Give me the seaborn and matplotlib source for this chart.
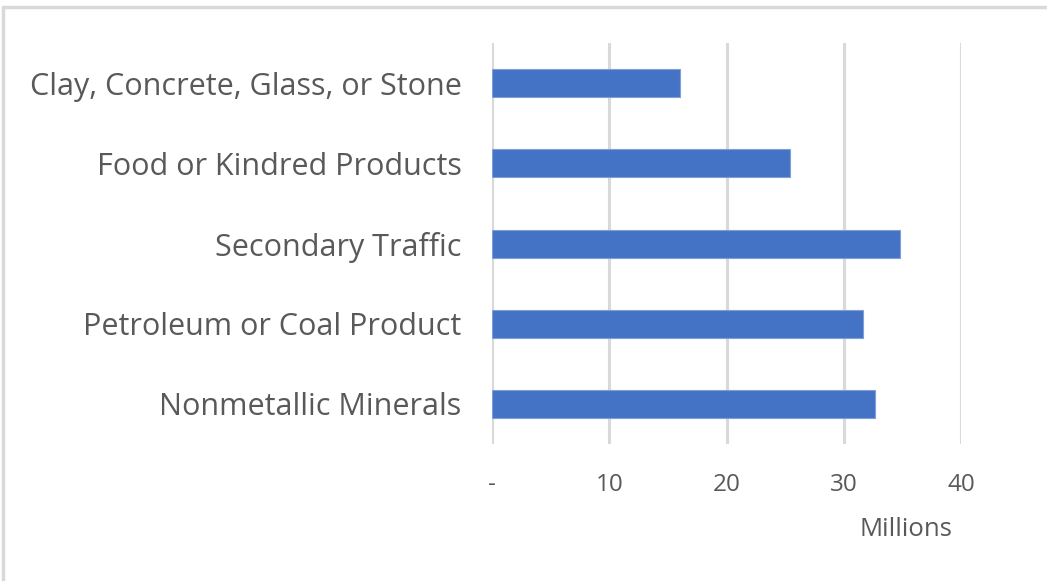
import matplotlib
matplotlib.use("Agg")
import matplotlib.pyplot as plt
from matplotlib.lines import Line2D
import seaborn as sns
import pandas as pd

categories = [
    "Clay, Concrete, Glass, or Stone",
    "Food or Kindred Products",
    "Secondary Traffic",
    "Petroleum or Coal Product",
    "Nonmetallic Minerals",
]
values = [16.0, 25.4, 34.8, 31.6, 32.7]
x_ticks = [0, 10, 20, 30, 40]
x_tick_labels = ["-", "10", "20", "30", "40"]

df = pd.DataFrame({"commodity": categories, "tons": values})

sns.set_theme(style="white")
plt.rcParams["font.family"] = ["Open Sans", "DejaVu Sans"]

text_color = "#595959"
grid_color = "#d9d9d9"
bar_color = "#4472C4"

fig = plt.figure(figsize=(10.47, 5.81), dpi=100)
ax = fig.add_axes([0.4699, 0.2358, 0.448, 0.690])

sns.barplot(data=df, x="tons", y="commodity", orient="h", color=bar_color,
            width=0.35, saturation=1, edgecolor="#7f9fd8", linewidth=0.8, ax=ax, zorder=3)

ax.set_xlim(0, 40)
ax.set_ylim(4.5, -0.5)
ax.set_xticks(x_ticks)
ax.set_xticklabels(x_tick_labels)
ax.xaxis.grid(True, color=grid_color, linewidth=2.2)
ax.set_axisbelow(True)
for s in ax.spines.values():
    s.set_visible(False)

ax.tick_params(axis="x", length=0, pad=21, labelsize=17.5, labelcolor=text_color)
ax.tick_params(axis="y", length=0, pad=22, labelsize=22, labelcolor=text_color)
ax.set_xlabel("")
ax.set_ylabel("")

fig.text(906 / 1047, 1 - 530 / 581, "Millions", ha="center", va="center",
         fontsize=18.5, color=text_color)

# outer chart border (top and left edges)
fig.add_artist(Line2D([3 / 1047, 1.0], [1 - 7 / 581, 1 - 7 / 581],
                      transform=fig.transFigure, color=grid_color, linewidth=2.5))
fig.add_artist(Line2D([3 / 1047, 3 / 1047], [0, 1 - 7 / 581],
                      transform=fig.transFigure, color=grid_color, linewidth=2.5))

fig.savefig("out.png", dpi=100, facecolor="white")
